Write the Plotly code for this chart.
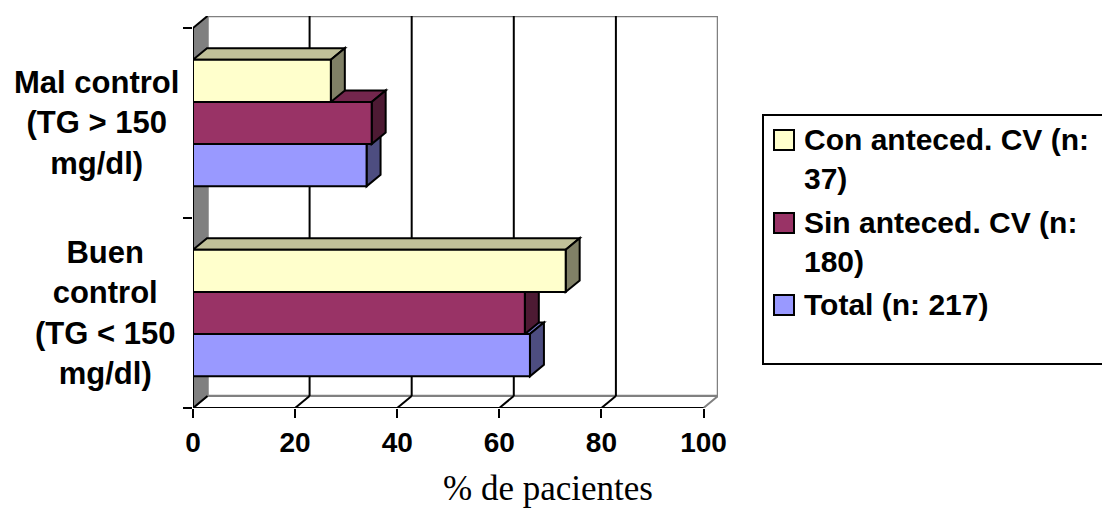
import textwrap
import plotly.graph_objects as go

# ---------------- data ----------------
categories = ["Buen control (TG < 150 mg/dl)", "Mal control (TG > 150 mg/dl)"]
category_labels = ["Buen<br>control<br>(TG < 150<br>mg/dl)", "Mal control<br>(TG > 150<br>mg/dl)"]
series_names = ["Con anteced. CV (n: 37)", "Sin anteced. CV (n: 180)", "Total (n: 217)"]
con_vals = [73, 27]
sin_vals = [65, 35]
total_vals = [66, 34]
x_ticks = [0, 20, 40, 60, 80, 100]
x_title = "% de pacientes"

# ---------------- styles ----------------
front_cols = ["#FFFFCC", "#993366", "#9999FF"]
top_cols = ["#C0C099", "#73264D", "#7373BF"]
side_cols = ["#808066", "#4D1A33", "#4D4D80"]
SANS = "Liberation Sans, Arial, sans-serif"
SERIF = "Liberation Serif, Times New Roman, serif"

OFF = 8  # page body margin
W, H = 1110 - OFF, 509 - OFF
L, R, T, B = 193 - OFF, 392, 16 - OFF, 101
PW, PH = W - L - R, H - T - B
X_MAX = 100.0
PX_PER_X = 511.0 / X_MAX
DX = 14.5 / PX_PER_X
Y_LO, Y_HI = -0.5, len(categories) - 0.5
PX_PER_Y = 190.0
DY = PH / PX_PER_Y - (Y_HI - Y_LO)
DXB = 14.0 / PX_PER_X
DYB = 11.5 / PX_PER_Y
BARGAP = 0.334


def pxx(px):  # window pixel -> paper x
    return (px - OFF - L) / PW


def pxy(py):  # window pixel -> paper y
    return (H - B - (py - OFF)) / PH


ypos = list(range(len(categories)))
series_vals = [con_vals, sin_vals, total_vals]
plot_order = [2, 1, 0]  # bottom -> top within a group

fig = go.Figure()
for k, si in enumerate(plot_order):
    fig.add_trace(go.Bar(
        y=ypos, x=series_vals[si], orientation="h", name=series_names[si],
        marker=dict(color=front_cols[si], line=dict(color="black", width=2)),
        showlegend=False, hoverinfo="x+name",
    ))

shapes = []
shapes.append(dict(type="path", layer="below", xref="x", yref="y",
                   path=f"M 0,{Y_LO} L 0,{Y_HI} L {DX},{Y_HI+DY} L {DX},{Y_LO+DY} Z",
                   fillcolor="#808080", line=dict(width=0)))
shapes.append(dict(type="rect", layer="below", xref="x", yref="y",
                   x0=DX, x1=X_MAX + DX, y0=Y_LO + DY, y1=Y_HI + DY,
                   fillcolor="white", line=dict(color="#808080", width=2.5)))
shapes.append(dict(type="path", layer="below", xref="x", yref="y",
                   path=f"M 0,{Y_LO} L {X_MAX},{Y_LO} L {X_MAX+DX},{Y_LO+DY} L {DX},{Y_LO+DY} Z",
                   fillcolor="white", line=dict(color="#808080", width=2)))
for t in x_ticks[1:-1]:
    shapes.append(dict(type="line", layer="below", xref="x", yref="y",
                       x0=t + DX, x1=t + DX, y0=Y_LO + DY, y1=Y_HI + DY,
                       line=dict(color="black", width=2)))
for t in x_ticks[:-1]:
    shapes.append(dict(type="line", layer="below", xref="x", yref="y",
                       x0=t, x1=t + DX, y0=Y_LO, y1=Y_LO + DY,
                       line=dict(color="black", width=2)))
shapes.append(dict(type="line", layer="below", xref="x", yref="y",
                   x0=0, x1=X_MAX, y0=Y_LO, y1=Y_LO, line=dict(color="black", width=2)))
shapes.append(dict(type="line", layer="below", xref="x", yref="y",
                   x0=0, x1=0, y0=Y_LO, y1=Y_HI, line=dict(color="black", width=2)))
shapes.append(dict(type="line", layer="below", xref="x", yref="y",
                   x0=0, x1=DX, y0=Y_HI, y1=Y_HI + DY, line=dict(color="black", width=2)))

group_w = 1 - BARGAP
bw = group_w / len(plot_order)
for ci, c in enumerate(ypos):
    for k, si in enumerate(plot_order):
        v = series_vals[si][ci]
        yb = c - group_w / 2 + k * bw
        yt = yb + bw
        shapes.append(dict(type="path", layer="below", xref="x", yref="y",
                           path=f"M 0,{yt} L {v},{yt} L {v+DXB},{yt+DYB} L {DXB},{yt+DYB} Z",
                           fillcolor=top_cols[si], line=dict(color="black", width=2)))
        shapes.append(dict(type="path", layer="below", xref="x", yref="y",
                           path=f"M {v},{yb} L {v},{yt} L {v+DXB},{yt+DYB} L {v+DXB},{yb+DYB} Z",
                           fillcolor=side_cols[si], line=dict(color="black", width=2)))

# legend box (runs past the right edge, like the reference)
shapes.append(dict(type="rect", xref="paper", yref="paper",
                   x0=pxx(763), x1=pxx(1125), y0=pxy(364), y1=pxy(115),
                   fillcolor="rgba(0,0,0,0)", line=dict(color="black", width=2)))

annotations = []
LEG_FS = 30
item_centers = [140, 223, 305]
for si, cy in enumerate(item_centers):
    shapes.append(dict(type="rect", xref="paper", yref="paper",
                       x0=pxx(774), x1=pxx(794), y0=pxy(cy + 10), y1=pxy(cy - 10),
                       fillcolor=front_cols[si], line=dict(color="black", width=2)))
    txt = "<br>".join(textwrap.wrap(series_names[si], 19))
    annotations.append(dict(xref="paper", yref="paper", x=pxx(802), y=pxy(cy - 0.65 * LEG_FS),
                            xanchor="left", yanchor="top", align="left", showarrow=False,
                            text=txt, font=dict(family=SANS, size=LEG_FS, color="black", weight="bold")))

label_centers = [105, 96]
for ci, c in enumerate(ypos):
    annotations.append(dict(xref="paper", yref="y", x=pxx(label_centers[ci]), y=c,
                            xanchor="center", yanchor="middle", align="center", showarrow=False,
                            text=category_labels[ci],
                            font=dict(family=SANS, size=31, color="black", weight="bold")))

annotations.append(dict(xref="paper", yref="paper", x=pxx(548), y=pxy(488), xanchor="center",
                        yanchor="middle", showarrow=False, text=x_title,
                        font=dict(family=SERIF, size=35, color="black")))

fig.update_layout(
    width=W, height=H, margin=dict(l=L, r=R, t=T, b=B, pad=0, autoexpand=False),
    paper_bgcolor="white", plot_bgcolor="rgba(0,0,0,0)",
    barmode="group", bargap=BARGAP, bargroupgap=0,
    showlegend=False, shapes=shapes, annotations=annotations,
    xaxis=dict(range=[0, X_MAX + DX], tickvals=x_ticks, ticktext=[str(t) for t in x_ticks],
               ticks="outside", ticklen=9, tickwidth=2, tickcolor="black",
               showgrid=False, zeroline=False, showline=False,
               tickfont=dict(family=SANS, size=28, color="black", weight="bold")),
    yaxis=dict(range=[Y_LO, Y_HI + DY], tickvals=[Y_LO, 0.5, Y_HI], ticks="outside",
               ticklen=9, tickwidth=2, tickcolor="black", showticklabels=False,
               showgrid=False, zeroline=False, showline=False),
)

fig.write_html("out.html")
